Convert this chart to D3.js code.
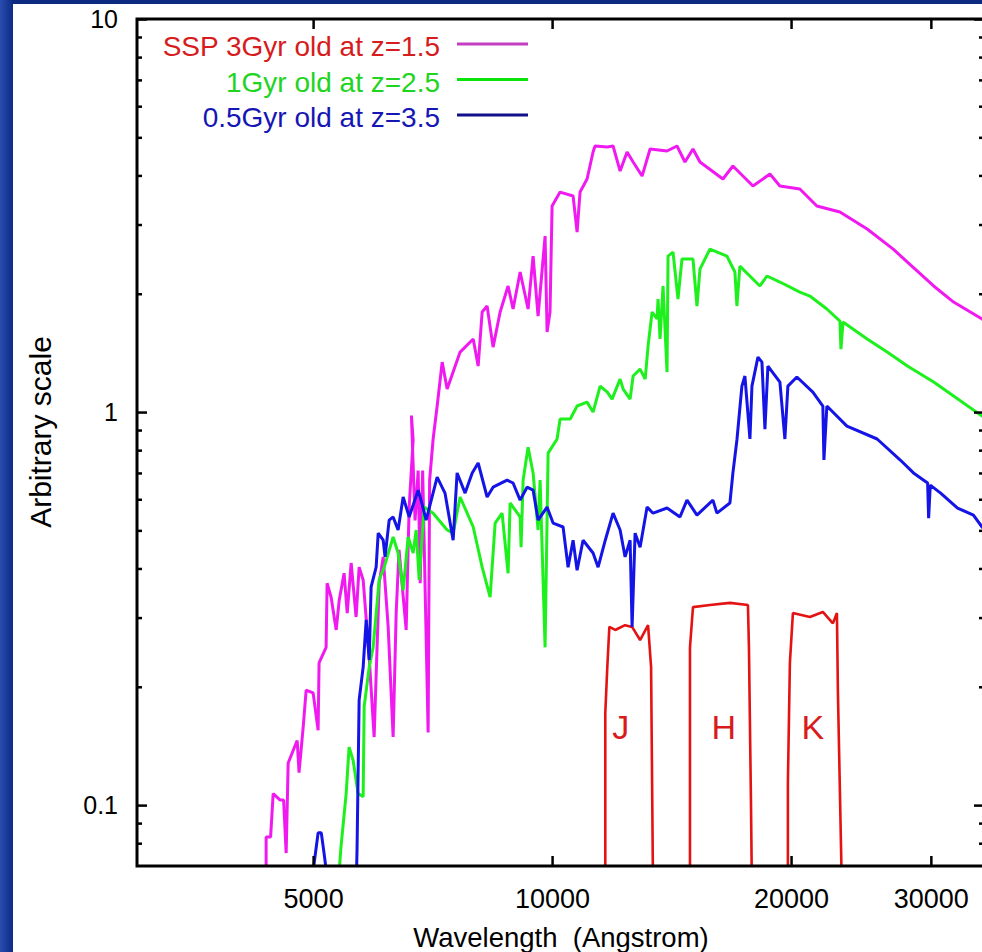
<!DOCTYPE html>
<html>
<head>
<meta charset="utf-8">
<script src="https://cdn.jsdelivr.net/npm/d3@7"></script>
<style>
  body { margin: 0; background: #0c2c86; }
  svg { display: block; font-family: "Liberation Sans", Arial, sans-serif; }
</style>
</head>
<body>
<svg id="chart" width="982" height="952"></svg>
<script>
// spectra: [wavelength (A), flux (arbitrary)]
const ssp3gyr = [
  [4363, 0.068], [4363, 0.083], [4420, 0.083], [4453, 0.107], [4544, 0.103], [4590, 0.103],
  [4624, 0.0755], [4651, 0.128], [4774, 0.146], [4800, 0.121], [4858, 0.158], [4900, 0.196],
  [5000, 0.193], [5073, 0.155], [5087, 0.230], [5192, 0.252], [5207, 0.367], [5268, 0.338],
  [5346, 0.279], [5393, 0.332], [5470, 0.389], [5520, 0.308], [5583, 0.413], [5664, 0.301],
  [5714, 0.403], [5781, 0.374], [5883, 0.238], [5968, 0.149], [6056, 0.367], [6127, 0.428],
  [6216, 0.284], [6306, 0.149], [6362, 0.308], [6415, 0.446], [6549, 0.279], [6606, 0.573],
  [6683, 0.849], [6650, 0.98], [6720, 0.53], [6781, 0.71], [6821, 0.367], [6870, 0.71],
  [6980, 0.153], [7010, 0.67], [7082, 0.854], [7165, 1.036], [7270, 1.340], [7376, 1.144],
  [7658, 1.421], [7955, 1.534], [8070, 1.309], [8164, 1.797], [8282, 1.861], [8427, 1.463],
  [8601, 1.797], [8802, 2.093], [8930, 1.829], [9115, 2.271], [9328, 1.829], [9464, 2.494],
  [9602, 1.755], [9799, 2.804], [9856, 1.598], [9940, 1.797], [10000, 3.344], [10235, 3.628],
  [10628, 3.545], [10752, 2.871], [10845, 3.628], [11068, 3.916], [11262, 4.587], [11327, 4.752],
  [11737, 4.724], [11935, 4.752], [12181, 4.104], [12430, 4.587], [12649, 4.326], [12983, 3.985],
  [13287, 4.669], [13957, 4.615], [14366, 4.752], [14702, 4.326], [15048, 4.669], [15356, 4.326],
  [16412, 3.916], [16896, 4.227], [17907, 3.759], [18811, 4.032], [19363, 3.759], [20517, 3.694],
  [21553, 3.344], [23046, 3.228], [24939, 2.922], [26895, 2.598], [28026, 2.408], [30244, 2.093],
  [32043, 1.905], [34804, 1.725], [35500, 1.66]
];

const ssp1gyr = [
  [5393, 0.068], [5420, 0.078], [5503, 0.107], [5550, 0.1405], [5615, 0.130], [5697, 0.107],
  [5781, 0.105], [5798, 0.178], [5883, 0.2245], [5951, 0.252], [6056, 0.374], [6145, 0.403],
  [6306, 0.481], [6398, 0.438], [6492, 0.352], [6587, 0.481], [6683, 0.438], [6742, 0.501],
  [6801, 0.374], [6900, 0.573], [7082, 0.553], [7376, 0.501], [7505, 0.492], [7658, 0.608],
  [7955, 0.510], [8164, 0.403], [8355, 0.338], [8477, 0.522], [8650, 0.553], [8802, 0.389],
  [8854, 0.587], [9115, 0.541], [9140, 0.453], [9194, 0.671], [9328, 0.814], [9464, 0.700],
  [9602, 0.501], [9658, 0.671], [9799, 0.252], [9885, 0.786], [10146, 0.854], [10235, 0.960],
  [10540, 0.960], [10752, 1.036], [11068, 1.060], [11262, 1.0], [11496, 1.164], [11737, 1.124],
  [11900, 1.079], [12181, 1.213], [12290, 1.144], [12539, 1.079], [12649, 1.235], [12908, 1.286],
  [13100, 1.213], [13210, 1.472], [13365, 1.797], [13559, 1.725], [13598, 1.939], [13677, 1.534],
  [13796, 2.093], [13957, 1.264], [13998, 2.494], [14201, 2.553], [14408, 1.939], [14575, 2.451],
  [15048, 2.451], [15223, 1.861], [15356, 2.311], [15806, 2.598], [16604, 2.494], [16994, 2.271],
  [17093, 1.861], [17241, 2.352], [18273, 2.093], [18648, 2.219], [19363, 2.142], [20517, 2.020],
  [21121, 1.973], [22189, 1.829], [23046, 1.704], [23113, 1.446], [23250, 1.694], [24939, 1.534],
  [26428, 1.421], [28026, 1.309], [30244, 1.192], [32043, 1.098], [34804, 0.977], [35500, 0.95]
];

const ssp05gyr = [
  [5000, 0.068], [5073, 0.085], [5120, 0.085], [5161, 0.0755], [5237, 0.06], [5664, 0.06],
  [5680, 0.078], [5714, 0.185], [5781, 0.2245], [5832, 0.296], [5883, 0.234], [5916, 0.359],
  [6003, 0.403], [6039, 0.492], [6127, 0.472], [6160, 0.428], [6234, 0.531], [6306, 0.541],
  [6398, 0.501], [6492, 0.608], [6606, 0.541], [6781, 0.633], [6821, 0.608], [6940, 0.531],
  [7165, 0.683], [7330, 0.622], [7505, 0.472], [7592, 0.700], [7770, 0.622], [7932, 0.700],
  [8070, 0.742], [8282, 0.608], [8427, 0.644], [8777, 0.671], [8930, 0.660], [9115, 0.597],
  [9300, 0.644], [9464, 0.633], [9602, 0.531], [9856, 0.573], [10029, 0.522], [10324, 0.510],
  [10475, 0.403], [10628, 0.472], [10752, 0.396], [10940, 0.472], [11262, 0.438], [11428, 0.403],
  [11668, 0.472], [11935, 0.553], [12181, 0.501], [12358, 0.428], [12539, 0.472], [12612, 0.284],
  [12722, 0.492], [12908, 0.453], [13172, 0.573], [13403, 0.553], [13957, 0.570], [14491, 0.541],
  [14788, 0.597], [15223, 0.547], [15944, 0.597], [16130, 0.553], [16749, 0.587], [16896, 0.700],
  [17093, 0.849], [17342, 1.164], [17494, 1.235], [17751, 0.854], [17855, 1.164], [18168, 1.380],
  [18380, 1.340], [18540, 0.905], [18702, 1.309], [19363, 1.192], [19645, 0.854], [19817, 1.164],
  [20340, 1.228], [21305, 1.124], [21932, 1.036], [22000, 0.755], [22189, 1.036], [23518, 0.921],
  [25672, 0.854], [27454, 0.755], [28525, 0.700], [29720, 0.660], [29807, 0.537], [29950, 0.652],
  [30863, 0.622], [32415, 0.570], [33943, 0.547], [34804, 0.510], [35500, 0.49]
];

// J, H, K filter transmission curves
const filterJ = [
  [11668, 0.06], [11668, 0.171], [11737, 0.2245], [11807, 0.284], [12010, 0.279], [12358, 0.287],
  [12612, 0.284], [12908, 0.263], [13210, 0.287], [13326, 0.2245], [13403, 0.06]
];
const filterH = [
  [14917, 0.06], [14917, 0.252], [15048, 0.319], [15806, 0.323], [16749, 0.327], [17648, 0.323],
  [17700, 0.252], [17803, 0.103], [17855, 0.06]
];
const filterK = [
  [19817, 0.06], [19817, 0.114], [19932, 0.230], [20107, 0.308], [21121, 0.301], [21932, 0.310],
  [22580, 0.290], [22845, 0.308], [22912, 0.193], [23180, 0.06]
];
const filterNames = ["J", "H", "K"];
const filterLabelWave = [12200, 16450, 21300];
const filterLabelFlux = 0.147;

const legendLabels = ["SSP 3Gyr old at z=1.5", "1Gyr old at z=2.5", "0.5Gyr old at z=3.5"];
const xTicks = [5000, 10000, 20000, 30000];
const yTicks = [0.1, 1, 10];
const yMinor = [0.08, 0.09, 0.2, 0.3, 0.4, 0.5, 0.6, 0.7, 0.8, 0.9, 2, 3, 4, 5, 6, 7, 8, 9];

const svg = d3.select("#chart");

const x = d3.scaleLog().domain([3000, 35000]).range([137, 984]);
const y = d3.scaleLog().domain([0.07, 10]).range([866, 19]);

// background: blue slide with white figure pasted on it
const defs = svg.append("defs");
const grad = defs.append("linearGradient").attr("id", "bg").attr("x1", 0).attr("x2", 1);
grad.append("stop").attr("offset", 0).attr("stop-color", "#2c4cae");
grad.append("stop").attr("offset", 1).attr("stop-color", "#0b2b85");
svg.append("rect").attr("width", 982).attr("height", 952).attr("fill", "#0b2a80");
svg.append("rect").attr("width", 13).attr("height", 952).attr("fill", "url(#bg)");
svg.append("rect").attr("x", 13).attr("y", 4).attr("width", 969).attr("height", 948).attr("fill", "#fff");

defs.append("clipPath").attr("id", "plot")
  .append("rect").attr("x", 137).attr("y", 19).attr("width", 847).attr("height", 847);

const line = d3.line().x(d => x(d[0])).y(d => y(d[1]));

const curves = svg.append("g").attr("clip-path", "url(#plot)")
  .attr("fill", "none").attr("stroke-linejoin", "bevel");

[filterJ, filterH, filterK].forEach(f => {
  curves.append("path").attr("d", line(f)).attr("stroke", "#e41313").attr("stroke-width", 2.6);
});
curves.append("path").attr("d", line(ssp3gyr)).attr("stroke", "#f01af0").attr("stroke-width", 3);
curves.append("path").attr("d", line(ssp1gyr)).attr("stroke", "#1ef01e").attr("stroke-width", 3);
curves.append("path").attr("d", line(ssp05gyr)).attr("stroke", "#1414e6").attr("stroke-width", 3);

svg.append("g").selectAll("text").data(filterNames).join("text")
  .attr("x", (d, i) => x(filterLabelWave[i]))
  .attr("y", y(filterLabelFlux))
  .attr("text-anchor", "middle")
  .attr("font-size", 34)
  .attr("fill", "#d81c1c")
  .text(d => d);

// axes, ticks pointing inward
function styleAxis(g) {
  g.select(".domain").remove();
  g.selectAll(".tick line").attr("stroke", "#000").attr("stroke-width", 2.5);
  g.selectAll(".tick text").attr("fill", "#000");
}

svg.append("g").attr("transform", "translate(0,866)")
  .call(d3.axisBottom(x).tickValues(xTicks).tickSize(-10).tickPadding(23).tickFormat(d3.format("d")))
  .call(styleAxis)
  .selectAll("text").attr("font-size", 27).attr("font-family", null);
svg.append("g").attr("transform", "translate(0,19)")
  .call(d3.axisTop(x).tickValues(xTicks).tickSize(-10).tickFormat(""))
  .call(styleAxis);

svg.append("g").attr("transform", "translate(137,0)")
  .call(d3.axisLeft(y).tickValues(yTicks).tickSize(-10).tickPadding(19).tickFormat(d => d < 1 ? "0.1" : String(d)))
  .call(styleAxis)
  .selectAll("text").attr("font-size", 25).attr("font-family", null);
svg.append("g").attr("transform", "translate(137,0)")
  .call(d3.axisLeft(y).tickValues(yMinor).tickSize(-5).tickFormat(""))
  .call(styleAxis);
svg.append("g").attr("transform", "translate(984,0)")
  .call(d3.axisRight(y).tickValues(yTicks).tickSize(-10).tickFormat(""))
  .call(styleAxis);
svg.append("g").attr("transform", "translate(984,0)")
  .call(d3.axisRight(y).tickValues(yMinor).tickSize(-5).tickFormat(""))
  .call(styleAxis);

svg.append("rect").attr("x", 137).attr("y", 19).attr("width", 847).attr("height", 847)
  .attr("fill", "none").attr("stroke", "#000").attr("stroke-width", 3);

// legend
const legendText = ["#d61c1c", "#22d422", "#1616b4"];
const legendLine = ["#c43ec4", "#0ae40a", "#10108a"];
const legend = svg.append("g");
legendLabels.forEach((label, i) => {
  const ly = 44 + i * 35.5;
  legend.append("text").attr("x", 440).attr("y", ly + 12).attr("text-anchor", "end")
    .attr("font-size", 28).attr("fill", legendText[i]).text(label);
  legend.append("line").attr("x1", 457).attr("x2", 528).attr("y1", ly).attr("y2", ly)
    .attr("stroke", legendLine[i]).attr("stroke-width", 3);
});

// axis titles
svg.append("text").attr("x", 561).attr("y", 947).attr("text-anchor", "middle")
  .attr("font-size", 27.5).attr("fill", "#000").text("Wavelength  (Angstrom)")
  .attr("xml:space", "preserve").style("white-space", "pre");
svg.append("text").attr("transform", "translate(51,432) rotate(-90)").attr("text-anchor", "middle")
  .attr("font-size", 30).attr("fill", "#000").text("Arbitrary scale");
</script>
</body>
</html>
